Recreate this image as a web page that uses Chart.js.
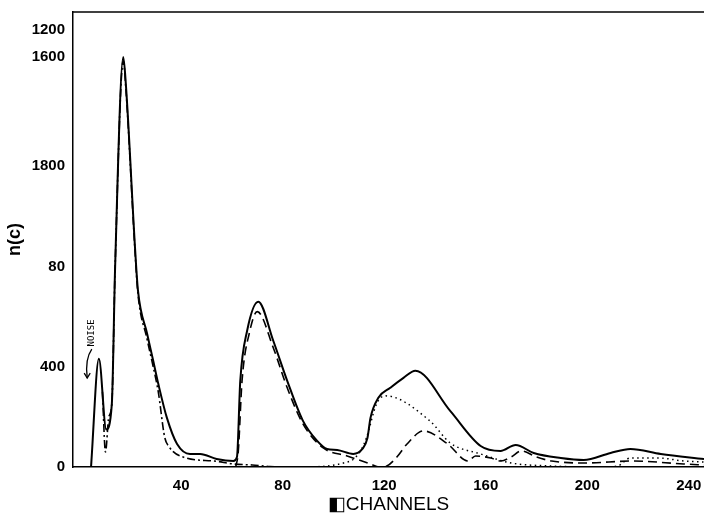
<!DOCTYPE html>
<html>
<head>
<meta charset="utf-8">
<script src="https://cdn.jsdelivr.net/npm/chart.js@4.4.1/dist/chart.umd.min.js"></script>
<style>
  html, body { margin: 0; padding: 0; background: #fff; }
  #wrap { width: 704px; height: 518px; }
</style>
</head>
<body>
<div id="wrap"><canvas id="grafico"></canvas></div>
<script>
const ctx = document.getElementById('grafico');

// channels and counts
const totalCh  = [4.5, 7.6, 10.5, 12.7, 14, 17.2, 18.3, 21.9, 23, 26.6, 29, 31, 34.4, 38.4, 43.5, 47.5, 54, 60.6, 62, 63.3, 66, 70.4, 76.3, 81.8, 88, 93.6, 97.5, 101.5, 107.8, 111.4, 113.4, 114.6, 117.7, 122.4, 127.6, 132.3, 146, 158, 165.8, 171.8, 178.9, 189.6, 198.6, 209.2, 217, 229, 246];
const totalVal = [0, 432, 150, 252, 800, 1636, 1516, 864, 704, 532, 424, 332, 196, 92, 52, 52, 32, 24, 40, 344, 544, 660, 504, 344, 184, 104, 72, 68, 52, 72, 116, 196, 276, 316, 356, 384, 224, 84, 64, 88, 56, 36, 28, 56, 72, 52, 32];

const comp1Ch  = [9, 10.2, 11.5, 12.7, 14, 17.2, 18.3, 21.9, 23, 26.6, 29, 31, 33.5, 35, 42, 53, 60.6, 68, 75, 80];
const comp1Val = [300, 60, 200, 252, 800, 1620, 1500, 850, 690, 510, 400, 300, 120, 84, 36, 24, 12, 8, 2, 0];

const comp2Ch  = [61.5, 62.5, 64, 67, 70, 76.3, 81.8, 88, 96, 105.4, 114.6, 118, 121, 125, 129, 135.5, 145, 153, 156, 162, 166, 170, 174, 180, 186, 199, 218, 238, 246];
const comp2Val = [0, 60, 344, 540, 620, 476, 316, 172, 76, 44, 12, 0, 4, 40, 92, 144, 92, 24, 44, 36, 24, 40, 64, 40, 24, 16, 24, 12, 8];

const comp3Ch  = [90, 97.5, 104, 108, 111, 113, 117, 120.5, 138, 146, 158, 170, 186, 205, 212, 217, 228, 238, 246];
const comp3Val = [0, 4, 16, 32, 70, 116, 252, 284, 184, 96, 52, 16, 4, 0, 4, 36, 36, 24, 20];

// tick positions and the labels printed on the scan
const yTickVals   = [0, 400, 800, 1200, 1636, 1744];
const yTickLabels = ['0', '400', '80', '1800', '1600', '1200'];
const xTickVals   = [40, 80, 120, 160, 200, 240];

function pts(xs, ys) {
    return xs.map((x, i) => ({ x: x, y: ys[i] }));
}

function serie(xs, ys, dash, width) {
    return {
        data: pts(xs, ys),
        showLine: true,
        borderColor: '#000',
        borderWidth: width,
        borderDash: dash,
        pointRadius: 0,
        cubicInterpolationMode: 'monotone',
        fill: false
    };
}

// top frame line + the NOISE note with its arrow
const extras = {
    id: 'extras',
    afterDatasetsDraw(chart) {
        const c = chart.ctx, a = chart.chartArea;
        const sx = chart.scales.x, sy = chart.scales.y;
        c.save();
        c.strokeStyle = '#000';
        c.lineWidth = 1.5;
        c.beginPath();
        c.moveTo(a.left, a.top);
        c.lineTo(a.right, a.top);
        c.stroke();

        const tx = sx.getPixelForValue(4.6), ty = sy.getPixelForValue(535);
        c.translate(tx, ty);
        c.rotate(-Math.PI / 2);
        c.font = '9px "DejaVu Sans Mono"';
        c.fillStyle = '#000';
        c.textAlign = 'center';
        c.textBaseline = 'middle';
        c.fillText('NOISE', 0, 0);
        c.restore();

        c.save();
        const ax = sx.getPixelForValue(4.8), ay = sy.getPixelForValue(470);
        const bx = sx.getPixelForValue(3), by = sy.getPixelForValue(355);
        c.strokeStyle = '#000';
        c.lineWidth = 1.3;
        c.beginPath();
        c.moveTo(ax, ay);
        c.quadraticCurveTo(ax - 7, ay + 10, bx, by);
        c.stroke();
        c.beginPath();
        c.moveTo(bx - 3, by - 5);
        c.lineTo(bx, by);
        c.lineTo(bx + 3, by - 5);
        c.stroke();
        c.restore();
    }
};

new Chart(ctx, {
    type: 'scatter',
    data: {
        datasets: [
            serie(totalCh, totalVal, [], 2),
            serie(comp1Ch, comp1Val, [8, 3, 2, 3], 1.6),
            serie(comp2Ch, comp2Val, [9, 5], 1.6),
            serie(comp3Ch, comp3Val, [1.5, 3.5], 1.5)
        ]
    },
    options: {
        responsive: true,
        maintainAspectRatio: false,
        animation: false,
        layout: { padding: { top: 12, right: 0, bottom: 0, left: 4 } },
        plugins: { legend: { display: false }, tooltip: { enabled: false } },
        scales: {
            x: {
                type: 'linear',
                min: -2.6,
                max: 246,
                afterBuildTicks: (s) => { s.ticks = xTickVals.map(v => ({ value: v })); },
                afterFit: (s) => { s.height = 51; },
                grid: { display: false },
                border: { color: '#000', width: 1.5 },
                ticks: {
                    color: '#000',
                    padding: 2,
                    font: { family: 'Liberation Sans', size: 15, weight: 'bold' }
                },
                title: {
                    display: true,
                    text: '◧CHANNELS',
                    color: '#000',
                    padding: { top: 0, bottom: 2 },
                    font: { family: 'Liberation Sans', size: 19 }
                }
            },
            y: {
                min: 0,
                max: 1816,
                afterBuildTicks: (s) => { s.ticks = yTickVals.map(v => ({ value: v })); },
                afterFit: (s) => { s.width = 69; },
                grid: { display: false },
                border: { color: '#000', width: 1.5 },
                ticks: {
                    color: '#000',
                    padding: 0,
                    font: { family: 'Liberation Sans', size: 15, weight: 'bold' },
                    callback: (v) => yTickLabels[yTickVals.indexOf(v)]
                },
                title: {
                    display: true,
                    text: 'n(c)',
                    color: '#000',
                    padding: { top: 0, bottom: 0 },
                    font: { family: 'Liberation Sans', size: 18, weight: 'bold' }
                }
            }
        }
    },
    plugins: [extras]
});
</script>
</body>
</html>
